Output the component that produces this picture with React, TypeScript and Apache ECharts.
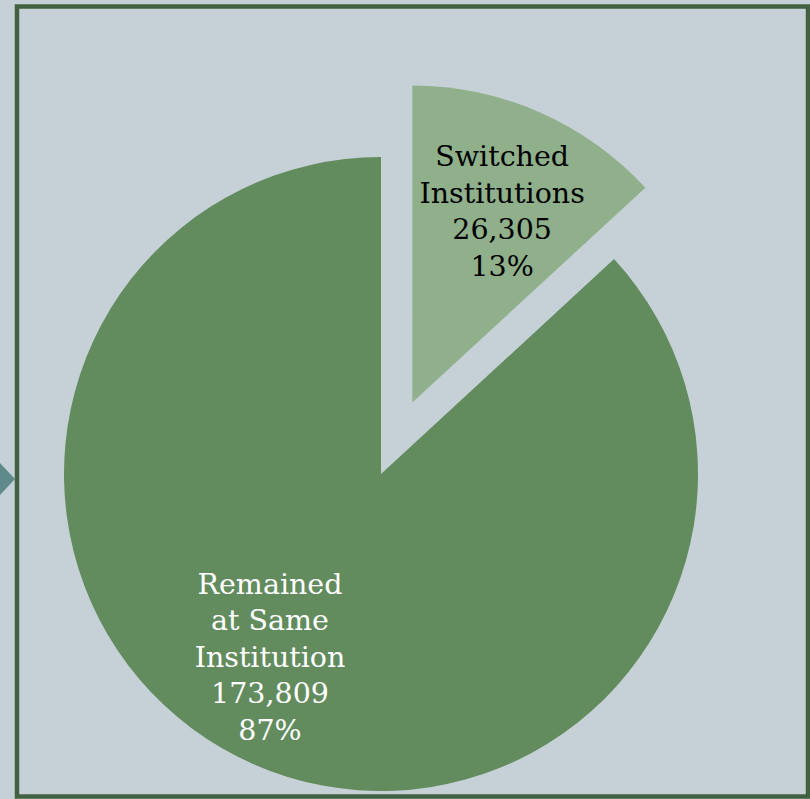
import React, { useEffect, useRef } from "react";
import * as echarts from "echarts";

const categories = ["Switched\nInstitutions", "Remained\nat Same\nInstitution"];
const values = [26305, 173809];
const percents = ["13%", "87%"];
const sliceColors = ["#8fb08b", "#628c5e"];
const labelColors = ["#000000", "#ffffff"];

export default function App() {
  const ref = useRef<HTMLDivElement>(null);
  useEffect(() => {
    const chart = echarts.init(ref.current!, null, { renderer: "svg" });
    chart.setOption({
      animation: false,
      backgroundColor: "#c6d1d7",
      graphic: [
        {
          type: "polygon",
          shape: { points: [[0, 463], [15, 479], [0, 495]] },
          style: { fill: "#5e8a8a" },
          z: 1,
        },
        {
          type: "rect",
          shape: { x: 17, y: 6.5, width: 791, height: 790 },
          style: { fill: "none", stroke: "#416141", lineWidth: 4.5 },
          z: 2,
        },
      ],
      series: [
        {
          type: "pie",
          center: [381, 474],
          radius: [0, 317],
          startAngle: 90,
          clockwise: true,
          selectedMode: "single",
          selectedOffset: 78,
          emphasis: { disabled: true },
          label: {
            show: true,
            position: "inside",
            fontFamily: "DejaVu Serif",
            fontSize: 28.5,
            lineHeight: 36.5,
            align: "center",
            verticalAlign: "middle",
            rich: {
              sp: { fontSize: 2, lineHeight: 86 },
            },
            formatter: (p: any) => {
              const base = `${p.name}\n${values[p.dataIndex].toLocaleString("en-US")}\n${percents[p.dataIndex]}`;
              return p.dataIndex === 0 ? `${base}\n{sp| }` : base;
            },
          },
          labelLine: { show: false },
          labelLayout: (params: any) =>
            params.dataIndex === 1 ? { x: 270, y: 657 } : {},
          data: categories.map((c, i) => ({
            name: c,
            value: values[i],
            selected: i === 0,
            itemStyle: { color: sliceColors[i] },
            label:
              i === 0
                ? { color: labelColors[i], padding: [0, 0, 0, 50] }
                : { color: labelColors[i] },
          })),
        },
      ],
    });
    return () => chart.dispose();
  }, []);
  return (
    <div
      ref={ref}
      style={{ position: "fixed", left: 0, top: 0, width: 810, height: 799 }}
    />
  );
}
